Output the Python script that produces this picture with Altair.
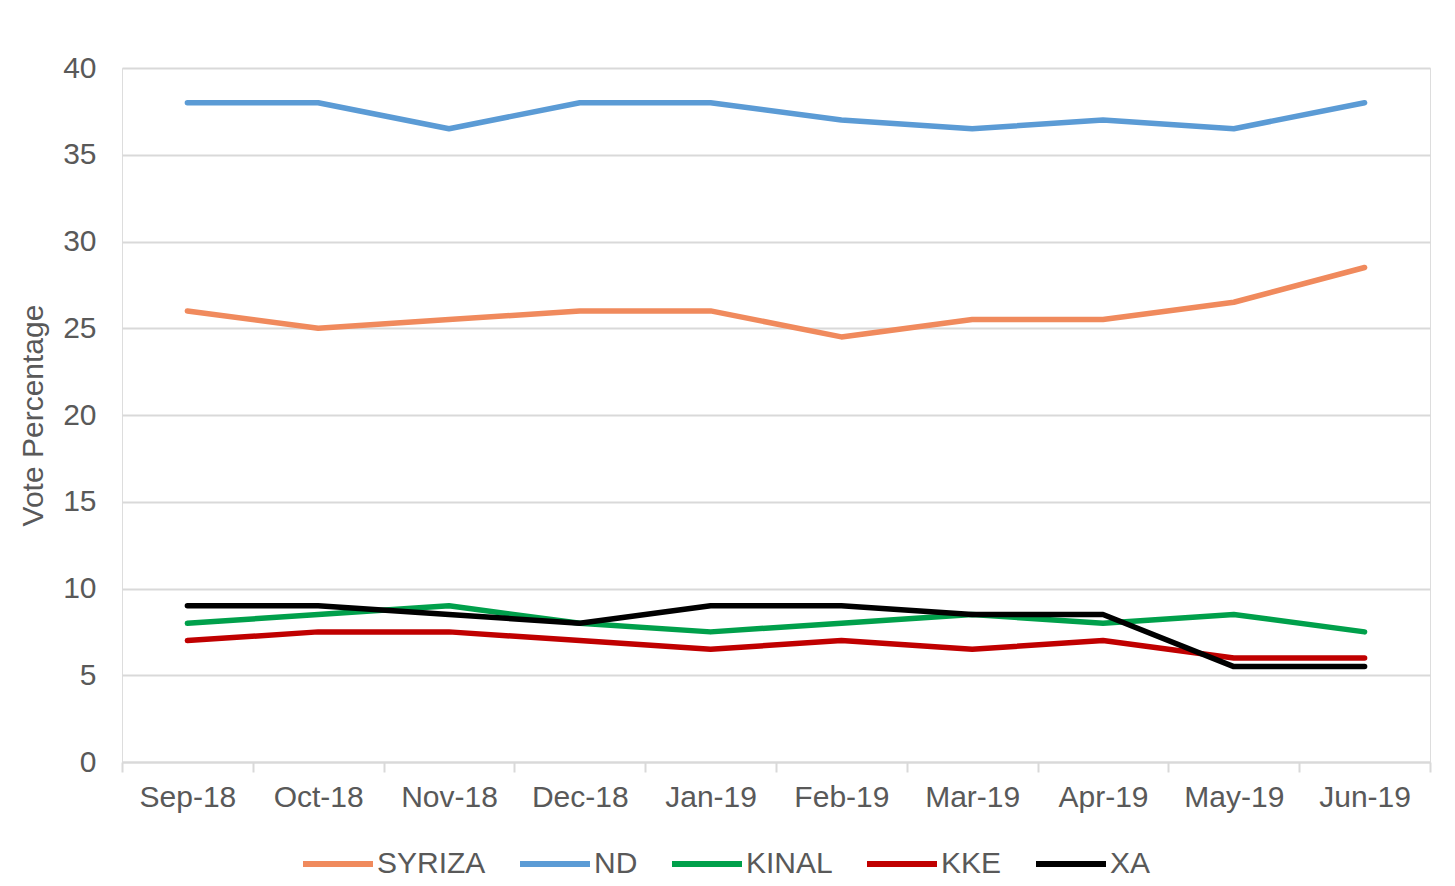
import altair as alt
import pandas as pd

months = ["Sep-18", "Oct-18", "Nov-18", "Dec-18", "Jan-19", "Feb-19", "Mar-19", "Apr-19", "May-19", "Jun-19"]
parties = ["SYRIZA", "ND", "KINAL", "KKE", "XA"]
colors = ["#F08A5D", "#5B9BD5", "#00A04B", "#C00000", "#000000"]

syriza = [26, 25, 25.5, 26, 26, 24.5, 25.5, 25.5, 26.5, 28.5]
nd = [38, 38, 36.5, 38, 38, 37, 36.5, 37, 36.5, 38]
kinal = [8, 8.5, 9, 8, 7.5, 8, 8.5, 8, 8.5, 7.5]
kke = [7, 7.5, 7.5, 7, 6.5, 7, 6.5, 7, 6, 6]
xa = [9, 9, 8.5, 8, 9, 9, 8.5, 8.5, 5.5, 5.5]

series = [syriza, nd, kinal, kke, xa]
rows = []
for p, vals in zip(parties, series):
    for m, v in zip(months, vals):
        rows.append({"Month": m, "Party": p, "Value": v})
df = pd.DataFrame(rows)

FONT = "Liberation Sans"
GRAY = "#595959"
FS = 30

chart = alt.Chart(df).mark_line(strokeWidth=5.5, strokeCap="round", strokeJoin="round").encode(
    x=alt.X("Month:O", sort=months,
            scale=alt.Scale(type="band", paddingInner=0, paddingOuter=0),
            axis=alt.Axis(title=None, tickBand="extent", labelAngle=0, labelFontSize=FS,
                          labelColor=GRAY, labelFont=FONT, labelPadding=10,
                          domainColor="#D9D9D9", domainWidth=2, tickColor="#D9D9D9",
                          tickWidth=2, tickSize=10, grid=False)),
    y=alt.Y("Value:Q", scale=alt.Scale(domain=[0, 40], nice=False),
            axis=alt.Axis(title="Vote Percentage", values=[0, 5, 10, 15, 20, 25, 30, 35, 40],
                          labelFontSize=FS, labelColor=GRAY, labelFont=FONT, labelPadding=26,
                          titleFontSize=30, titleColor=GRAY, titleFont=FONT, titleFontWeight="normal",
                          titlePadding=14, domain=False, ticks=False,
                          gridColor="#D9D9D9", gridWidth=2)),
    color=alt.Color("Party:N", sort=parties,
                    scale=alt.Scale(domain=parties, range=colors),
                    legend=alt.Legend(title=None, orient="none", direction="horizontal",
                                      legendX=178, legendY=758,
                                      symbolType="stroke", symbolSize=4900, symbolStrokeWidth=6,
                                      labelFontSize=FS, labelColor=GRAY, labelFont=FONT,
                                      labelOffset=1, columnPadding=22)),
).properties(
    width=1308, height=694,
    autosize=alt.AutoSizeParams(type="none"),
    padding={"left": 114, "top": 60, "right": 17, "bottom": 116},
).configure_view(stroke=None).configure(background="white")

chart.save("out.html", embed_options={"renderer": "svg", "actions": False})
